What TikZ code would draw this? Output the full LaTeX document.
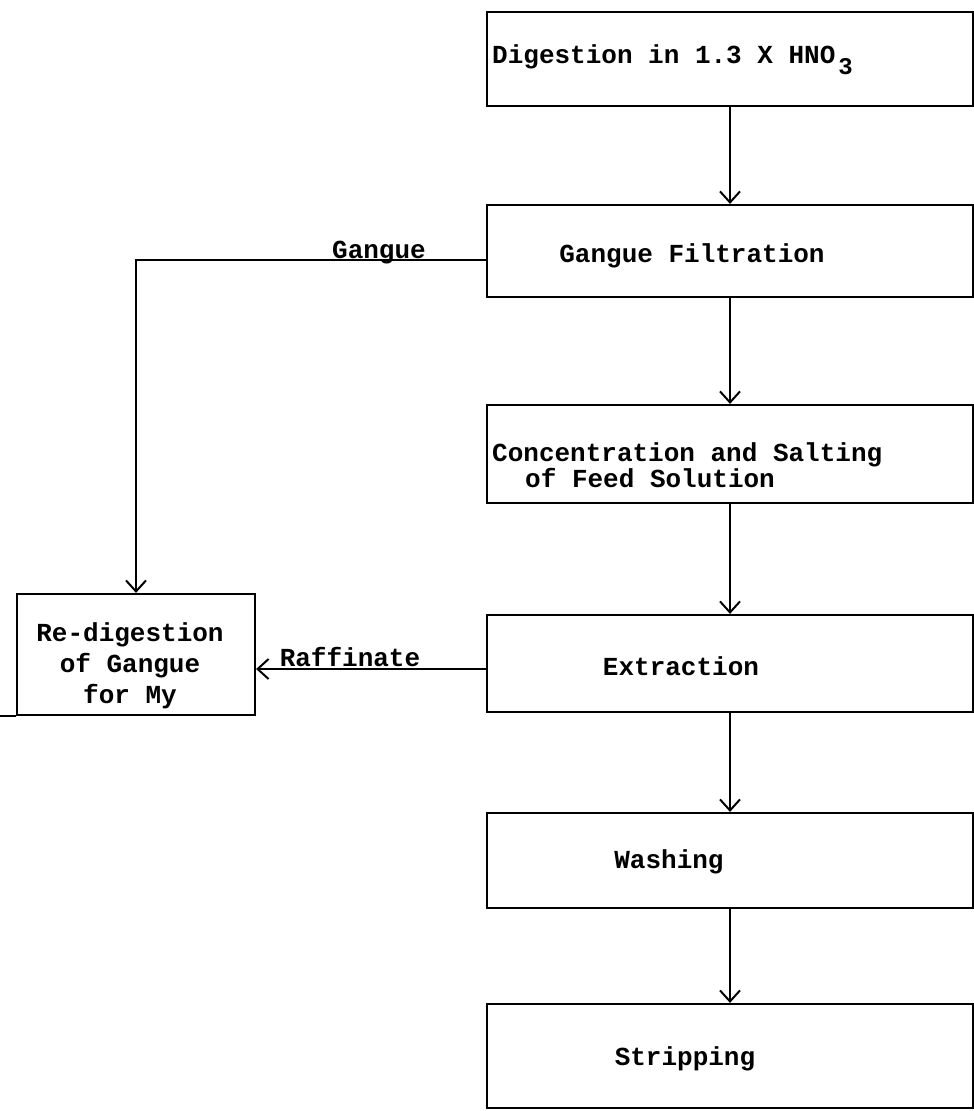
\documentclass[tikz,border=0pt]{standalone}
\usepackage{fontspec}
\setmonofont{Liberation Mono}
\usepackage{tikz}
\usetikzlibrary{arrows.meta}

\begin{document}
\begin{tikzpicture}[x=1pt, y=-1pt,
		stepbox/.style={draw, line width=2.2pt, minimum width=486pt, inner sep=0pt},
		txt/.style={inner sep=0pt, font=\ttfamily\bfseries\fontsize{26}{24}\selectfont},
		flow/.style={line width=2pt, -{Straight Barb[length=11pt, width=20pt, line width=2pt]}}]

		\useasboundingbox (0,0) rectangle (974,1111);

		% main column of steps
		\node[stepbox, minimum height=94pt] (dig) at (730,59) {};
		\node[stepbox, minimum height=92pt] (filt) at (730,251) {};
		\node[stepbox, minimum height=98pt] (conc) at (730,454) {};
		\node[stepbox, minimum height=97pt] (extr) at (730,663.5) {};
		\node[stepbox, minimum height=95pt] (wash) at (730,860.5) {};
		\node[stepbox, minimum height=104pt] (strip) at (730,1056) {};

		% side box
		\node[stepbox, minimum width=238pt, minimum height=121pt] (redig) at (136,654.5) {};
		\draw[line width=2.2pt] (redig.south west) -- ++(-17,0);

		% texts in the boxes
		\node[txt, anchor=base west] (digtxt) at (492,63) {Digestion in 1.3 X HNO\kern3pt\raisebox{-11pt}{\fontsize{24}{24}\selectfont 3}};
		\node[txt, anchor=base] (filttxt) at (692,262) {Gangue Filtration};
		\node[txt, anchor=west, align=left] (conctxt) at (492,465) {Concentration and Salting\\\hspace*{33pt}of Feed Solution};
		\node[txt, anchor=base] (extrtxt) at (681,675) {Extraction};
		\node[txt, anchor=base] (washtxt) at (669,868) {Washing};
		\node[txt, anchor=base] (striptxt) at (685,1065) {Stripping};
		\node[txt, align=center, font=\ttfamily\bfseries\fontsize{26}{31}\selectfont] (redigtxt) at (130,666) {Re-digestion\\of Gangue\\for My};

		% arrows down the column
		\draw[flow] (dig.south) -- (filt.north);
		\draw[flow] (filt.south) -- (conc.north);
		\draw[flow] (conc.south) -- (extr.north);
		\draw[flow] (extr.south) -- (wash.north);
		\draw[flow] (wash.south) -- (strip.north);

		% side streams
		\draw[flow] ([yshift=-9pt]filt.west) -| (redig.north);
		\node[txt, anchor=base] (gangue) at (379,258) {Gangue};
		\draw[flow] ([yshift=-5.5pt]extr.west) -- ([yshift=-5.5pt]extr.west -| redig.east);
		\node[txt, anchor=base] (raff) at (350,666) {Raffinate};

\end{tikzpicture}
\end{document}
